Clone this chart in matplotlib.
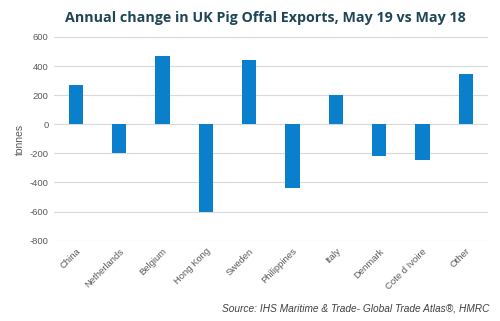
import matplotlib.pyplot as plt

plt.rcParams["axes.unicode_minus"] = False
plt.rcParams["font.family"] = ["Liberation Sans", "DejaVu Sans"]

countries = ["China", "Netherlands", "Belgium", "Hong Kong", "Sweden",
             "Philippines", "Italy", "Denmark", "Cote d Ivoire", "Other"]
change = [268, -200, 470, -605, 438, -440, 198, -215, -245, 345]
yticks = [600, 400, 200, 0, -200, -400, -600, -800]

fig = plt.figure(figsize=(5, 3.21), dpi=100)
ax = fig.add_axes([0.108, 0.249, 0.867, 0.636])

ax.bar(range(len(countries)), change, width=0.33, color="#0a7fcc", zorder=3)
ax.set_xlim(-0.5, len(countries) - 0.5)
ax.set_ylim(-803, 600)
ax.set_yticks(yticks)
ax.set_xticks(range(len(countries)))
ax.set_xticklabels(countries, rotation=45, ha="right", rotation_mode="anchor")
ax.tick_params(length=0, labelsize=6.8, colors="#595959", pad=4)
ax.grid(axis="y", color="#d9d9d9", linewidth=0.8, zorder=0)
for s in ax.spines.values():
    s.set_visible(False)
ax.set_ylabel("tonnes", fontsize=7.5, color="#595959", labelpad=3)

fig.text(0.53, 0.945, "Annual change in UK Pig Offal Exports, May 19 vs May 18",
         ha="center", va="center", fontsize=10.3, fontweight="bold",
         color="#1e4656", family="Open Sans")
fig.text(0.98, 0.04, "Source: IHS Maritime & Trade- Global Trade Atlas®, HMRC",
         ha="right", va="center", fontsize=7.3, style="italic", color="#404040")

fig.savefig("out.png", dpi=100)
